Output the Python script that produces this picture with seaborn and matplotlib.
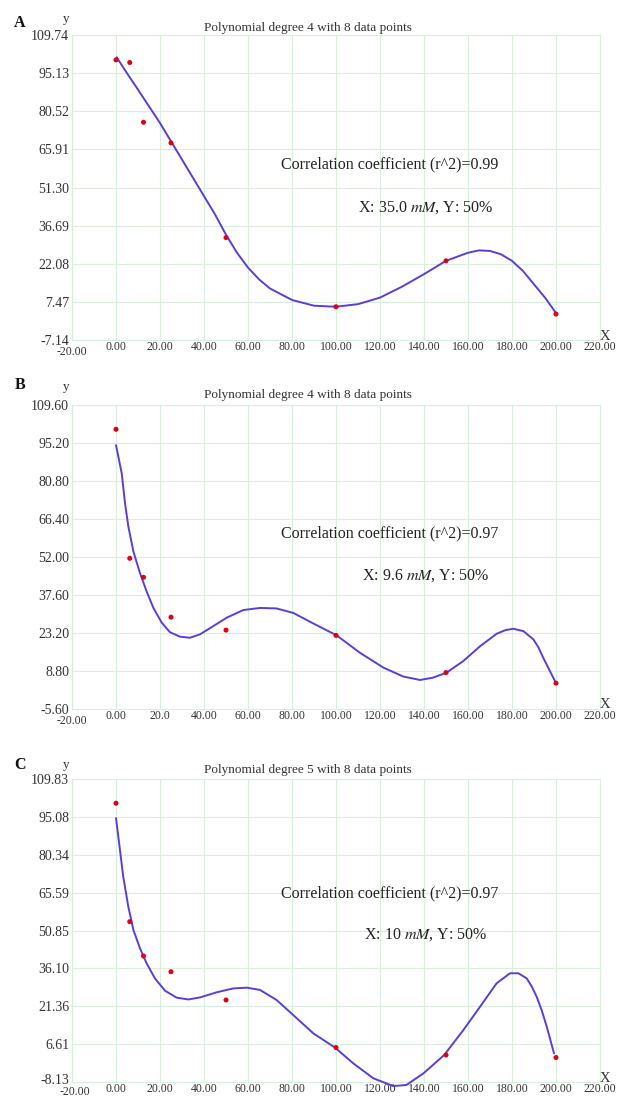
import numpy as np
import pandas as pd
import matplotlib
matplotlib.use("Agg")
import matplotlib.pyplot as plt
import matplotlib.transforms as mtransforms
import seaborn as sns

# measured data points (same x for all three panels)
x_points = [0, 6.25, 12.5, 25, 50, 100, 150, 200]
a_points = [100.2, 99.2, 76.3, 68.4, 32.1, 5.6, 23.2, 2.8]
b_points = [100.4, 51.5, 44.3, 29.2, 24.3, 22.3, 8.2, 4.2]
c_points = [100.4, 54.3, 40.9, 34.8, 23.8, 5.3, 2.4, 1.4]

# fitted curves
a_curve_x = [0.3, 5, 10, 15, 20, 25, 30, 35, 40, 45, 50, 55, 60, 65, 70, 80, 90, 100,
             110, 120, 130, 140, 150, 160, 165, 170, 175, 180, 185, 190, 195, 200]
a_curve_y = [101.2, 95.1, 88.8, 82.4, 76.0, 69.0, 62.0, 55.0, 48.0, 41.0, 33.2, 26.3,
             20.6, 16.1, 12.6, 8.2, 6.0, 5.6, 6.6, 9.1, 13.3, 18.1, 23.2, 26.3, 27.2,
             27.0, 25.7, 23.2, 19.3, 14.2, 9.1, 3.2]
b_curve_x = [0, 2.6, 4.1, 5.6, 7.9, 10.9, 13.9, 17, 20.8, 24.5, 29.1, 33.6, 38.2, 44.2,
             50.3, 57.9, 65.5, 73, 80.6, 89.7, 100.3, 110.9, 121.5, 130.6, 138.2, 144.2,
             150.3, 157.9, 165.5, 173, 177, 180.6, 185.2, 189.7, 192, 194.2, 196.5,
             198, 200]
b_curve_y = [94.4, 83.7, 72.4, 63.6, 54.1, 45.9, 39.0, 32.7, 27.1, 23.5, 21.8, 21.4,
             22.7, 25.8, 29.0, 31.9, 32.7, 32.5, 30.8, 26.8, 22.3, 15.7, 10.1, 6.7, 5.4,
             6.3, 8.2, 12.6, 18.2, 22.9, 24.3, 24.8, 23.9, 20.8, 17.8, 13.8, 10.0,
             7.5, 4.2]
c_curve_x = [0, 1.8, 3.3, 5.6, 7.9, 10.9, 13.9, 17.7, 22.3, 27.6, 32.9, 38.2, 45.8,
             53.3, 59.4, 65.5, 73, 80.6, 89.7, 99.5, 107.9, 117, 126, 132, 139.7, 149.2,
             157.9, 165.5, 173, 179.1, 182.9, 186.7, 189, 191.2, 193.5, 195.8, 199.1]
c_curve_y = [94.6, 82.2, 71.8, 60.1, 51.1, 43.9, 38.1, 32.2, 27.4, 24.7, 24.0, 24.8,
             26.8, 28.3, 28.6, 27.7, 23.8, 17.9, 10.8, 5.3, -0.9, -6.7, -9.7, -9.3, -4.8,
             2.4, 12.1, 21.2, 30.3, 34.2, 34.2, 32.2, 29.0, 25.1, 19.8, 13.4, 3.0]

x_ticks = [-20, 0, 20, 40, 60, 80, 100, 120, 140, 160, 180, 200, 220]
x_labels_a = ["-20.00", "0.00", "20.00", "40.00", "60.00", "80.00", "100.00", "120.00",
              "140.00", "160.00", "180.00", "200.00", "220.00"]
x_labels_b = ["-20.00", "0.00", "20.0", "40.00", "60.00", "80.00", "100.00", "120.00",
              "140.00", "160.00", "180.00", "200.00", "220.00"]
y_ticks_a = [-7.14, 7.47, 22.08, 36.69, 51.30, 65.91, 80.52, 95.13, 109.74]
y_ticks_b = [-5.60, 8.80, 23.20, 37.60, 52.00, 66.40, 80.80, 95.20, 109.60]
y_ticks_c = [-8.13, 6.61, 21.36, 36.10, 50.85, 65.59, 80.34, 95.08, 109.83]

panels = [
    dict(letter="A", degree=4, r2="0.99", xval="35.0", pts=a_points,
         cx=a_curve_x, cy=a_curve_y, yt=y_ticks_a, xl=x_labels_a, top=35, bot=340,
         ly=23, yy=19, ty=28, ry=164, xy=208, drop=5, lift=0),
    dict(letter="B", degree=4, r2="0.97", xval="9.6", pts=b_points,
         cx=b_curve_x, cy=b_curve_y, yt=y_ticks_b, xl=x_labels_b, top=405, bot=709,
         ly=385, yy=387, ty=395, ry=533, xy=576, drop=5, lift=0),
    dict(letter="C", degree=5, r2="0.97", xval="10", pts=c_points,
         cx=c_curve_x, cy=c_curve_y, yt=y_ticks_c, xl=x_labels_a, top=779, bot=1082,
         ly=765, yy=765, ty=770, ry=893, xy=935, drop=3, lift=3),
]

sns.set_theme(style="white")
plt.rcParams['font.family'] = ['Liberation Serif', 'DejaVu Serif']
plt.rcParams['mathtext.fontset'] = 'stix'

W, H = 619, 1097
fig = plt.figure(figsize=(W / 100, H / 100), dpi=100)
fig.patch.set_facecolor("white")

grid_col = "#d9efdb"
curve_col = "#5a3ddb"
text_col = "#333333"

def fx(px):
    return px / W

def fy(py):
    return 1 - py / H

for p in panels:
    ax = fig.add_axes([fx(72), fy(p["bot"]), fx(600) - fx(72), (p["bot"] - p["top"]) / H])
    ax.set_facecolor("white")
    curve = pd.DataFrame({"x": p["cx"], "y": p["cy"]})
    pts = pd.DataFrame({"x": x_points, "y": p["pts"]})
    sns.lineplot(data=curve, x="x", y="y", ax=ax, color=curve_col, linewidth=1.4,
                 sort=False, zorder=3, clip_on=False, solid_joinstyle="round")
    sns.scatterplot(data=pts, x="x", y="y", ax=ax, color="#e00010", s=13,
                    edgecolor="none", zorder=4, clip_on=False)
    ax.set_xlim(-20, 220)
    ax.set_ylim(p["yt"][0], p["yt"][-1])
    ax.set_xticks(x_ticks)
    ax.set_xticklabels(p["xl"])
    ax.set_yticks(p["yt"])
    ax.set_yticklabels(["%.2f" % v for v in p["yt"]])
    ax.grid(True, color=grid_col, linewidth=0.8)
    ax.set_axisbelow(True)
    for s in ax.spines.values():
        s.set_color(grid_col)
        s.set_linewidth(0.8)
    ax.tick_params(axis="x", length=0, labelsize=8.5, labelcolor=text_col, pad=1)
    ax.tick_params(axis="y", length=0, labelsize=10, labelcolor=text_col, pad=2)
    ax.set_xlabel("")
    ax.set_ylabel("")
    # corner labels: first x label sits a little lower, bottom y label a bit higher
    first = ax.get_xticklabels()[0]
    first.set_transform(first.get_transform() +
                        mtransforms.ScaledTranslation(p["lift"] / 100, -p["drop"] / 100,
                                                      fig.dpi_scale_trans))
    low = ax.get_yticklabels()[0]
    low.set_transform(low.get_transform() +
                      mtransforms.ScaledTranslation(0, p["lift"] / 100, fig.dpi_scale_trans))

    fig.text(fx(20), fy(p["ly"]), p["letter"], fontsize=11.5, fontweight="bold",
             ha="center", va="center", color="#111111")
    fig.text(fx(66), fy(p["yy"]), "y", fontsize=9.5, ha="center", va="center", color=text_col)
    fig.text(fx(605), fy(p["bot"] - 4), "X", fontsize=10.5, ha="center", va="center",
             color=text_col)
    fig.text(fx(308), fy(p["ty"]), "Polynomial degree %d with 8 data points" % p["degree"],
             fontsize=9.5, ha="center", va="center", color=text_col)
    fig.text(fx(390), fy(p["ry"]), "Correlation coefficient (r^2)=%s" % p["r2"],
             fontsize=11.5, ha="center", va="center", color="#222222")
    fig.text(fx(426), fy(p["xy"]), "X: %s $\\mathit{mM}$, Y: 50%%" % p["xval"],
             fontsize=11.5, ha="center", va="center", color="#222222")

fig.savefig("out.png", dpi=100, facecolor="white")
